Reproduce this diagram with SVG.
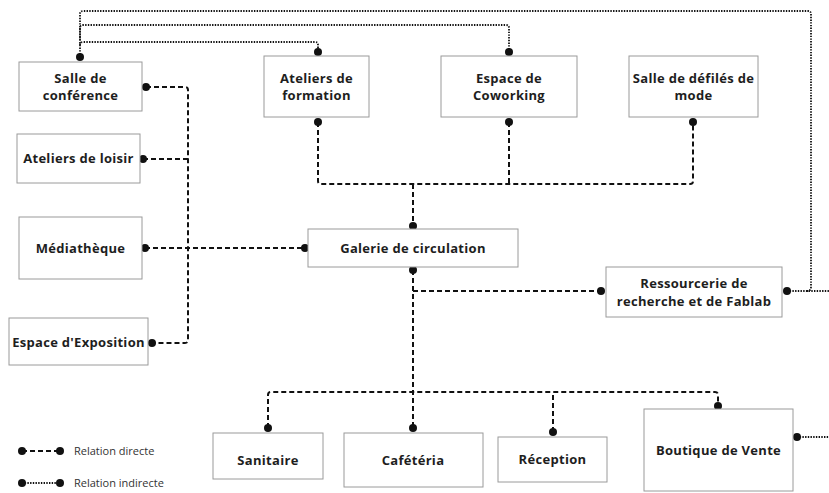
<svg xmlns="http://www.w3.org/2000/svg" width="829" height="493" viewBox="0 0 829 493">
<style>
.box{fill:#fff;stroke:#9a9a9a;stroke-width:1}
.lbl{font-family:"Open Sans","Liberation Sans",sans-serif;font-weight:700;font-size:13px;letter-spacing:0.3px;fill:#1e1e1e;text-anchor:middle}
.leg{font-family:"Open Sans","Liberation Sans",sans-serif;font-size:11px;fill:#333}
.dash{fill:none;stroke:#111;stroke-width:2;stroke-dasharray:5 3}
.dot{fill:none;stroke:#111;stroke-width:1.8;stroke-dasharray:1.4 1.3}
.pt{fill:#111}
</style>
<rect width="829" height="493" fill="#fff"/>
<g id="connectors">
<path class="dash" d="M146,87 H185 Q188,87 188,90 V340 Q188,343 185,343 H152"/>
<path class="dash" d="M143,159 H188"/>
<path class="dash" d="M145,248 H305"/>
<path class="dash" d="M318,122 V181 Q318,184 321,184 H690 Q693,184 693,181 V122"/>
<path class="dash" d="M509,122 V184"/>
<path class="dash" d="M413,184 V226"/>
<path class="dash" d="M413,270 V428"/>
<path class="dash" d="M413,291 H601"/>
<path class="dash" d="M268,428 V395 Q268,392 271,392 H715 Q718,392 718,395 V406"/>
<path class="dash" d="M553,432 V392"/>
<path class="dot" d="M80,57 V14 Q80,11 83,11 H808 Q811,11 811,14 V287 Q811,291 807,291"/>
<path class="dot" d="M787,291 H829"/>
<path class="dot" d="M80,40 V28 Q80,25 83,25 H506 Q509,25 509,28 V52"/>
<path class="dot" d="M80,45 Q80,42 83,42 H315 Q318,42 318,45 V52"/>
<path class="dot" d="M797,437 H829"/>
<g class="pt">
<circle cx="146" cy="87" r="4"/><circle cx="143" cy="159" r="4"/><circle cx="145" cy="248" r="4"/><circle cx="305" cy="248" r="4"/><circle cx="152" cy="343" r="4"/>
<circle cx="318" cy="122" r="4"/><circle cx="509" cy="122" r="4"/><circle cx="693" cy="122" r="4"/><circle cx="413" cy="226" r="4"/><circle cx="413" cy="270" r="4"/><circle cx="601" cy="291" r="4"/>
<circle cx="268" cy="428" r="4"/><circle cx="413" cy="428" r="4"/><circle cx="553" cy="432" r="4"/><circle cx="718" cy="406" r="4"/>
<circle cx="80" cy="57" r="4"/><circle cx="318" cy="52" r="4"/><circle cx="509" cy="52" r="4"/><circle cx="787" cy="291" r="4"/><circle cx="797" cy="437" r="4"/>
</g>
</g>
<g id="n-conference"><rect class="box" x="19" y="62" width="123" height="49"/><text class="lbl" x="80.5" y="83">Salle de</text><text class="lbl" x="80.5" y="100">conférence</text></g>
<g id="n-loisir"><rect class="box" x="17" y="134" width="123" height="49"/><text class="lbl" x="78.5" y="163">Ateliers de loisir</text></g>
<g id="n-formation"><rect class="box" x="264" y="56" width="105" height="61"/><text class="lbl" x="316.5" y="83">Ateliers de</text><text class="lbl" x="316.5" y="100">formation</text></g>
<g id="n-coworking"><rect class="box" x="441" y="56" width="136" height="61"/><text class="lbl" x="509" y="83">Espace de</text><text class="lbl" x="509" y="100">Coworking</text></g>
<g id="n-defiles"><rect class="box" x="629" y="56" width="129" height="61"/><text class="lbl" x="693.5" y="83">Salle de défilés de</text><text class="lbl" x="693.5" y="100">mode</text></g>
<g id="n-mediatheque"><rect class="box" x="19" y="217" width="123" height="62"/><text class="lbl" x="80.5" y="253">Médiathèque</text></g>
<g id="n-galerie"><rect class="box" x="308" y="229" width="210" height="38"/><text class="lbl" x="413" y="253">Galerie de circulation</text></g>
<g id="n-ressourcerie"><rect class="box" x="606" y="267" width="176" height="50"/><text class="lbl" x="694" y="288">Ressourcerie de</text><text class="lbl" x="694" y="306">recherche et de Fablab</text></g>
<g id="n-exposition"><rect class="box" x="9" y="318" width="139" height="47"/><text class="lbl" x="78.5" y="347">Espace d'Exposition</text></g>
<g id="n-sanitaire"><rect class="box" x="213" y="433" width="110" height="46"/><text class="lbl" x="268" y="465">Sanitaire</text></g>
<g id="n-cafeteria"><rect class="box" x="344" y="433" width="139" height="54"/><text class="lbl" x="413" y="465">Cafétéria</text></g>
<g id="n-reception"><rect class="box" x="498" y="437" width="109" height="45"/><text class="lbl" x="552.5" y="464">Réception</text></g>
<g id="n-boutique"><rect class="box" x="644" y="409" width="149" height="82"/><text class="lbl" x="718.5" y="455">Boutique de Vente</text></g>
<g id="legend">
<path class="dash" d="M22,451 H60"/><circle class="pt" cx="22" cy="451" r="4"/><circle class="pt" cx="60" cy="451" r="4"/>
<text class="leg" x="74" y="455">Relation directe</text>
<path class="dot" d="M22,483 H60"/><circle class="pt" cx="22" cy="483" r="4"/><circle class="pt" cx="60" cy="483" r="4"/>
<text class="leg" x="74" y="487">Relation indirecte</text>
</g>
</svg>
